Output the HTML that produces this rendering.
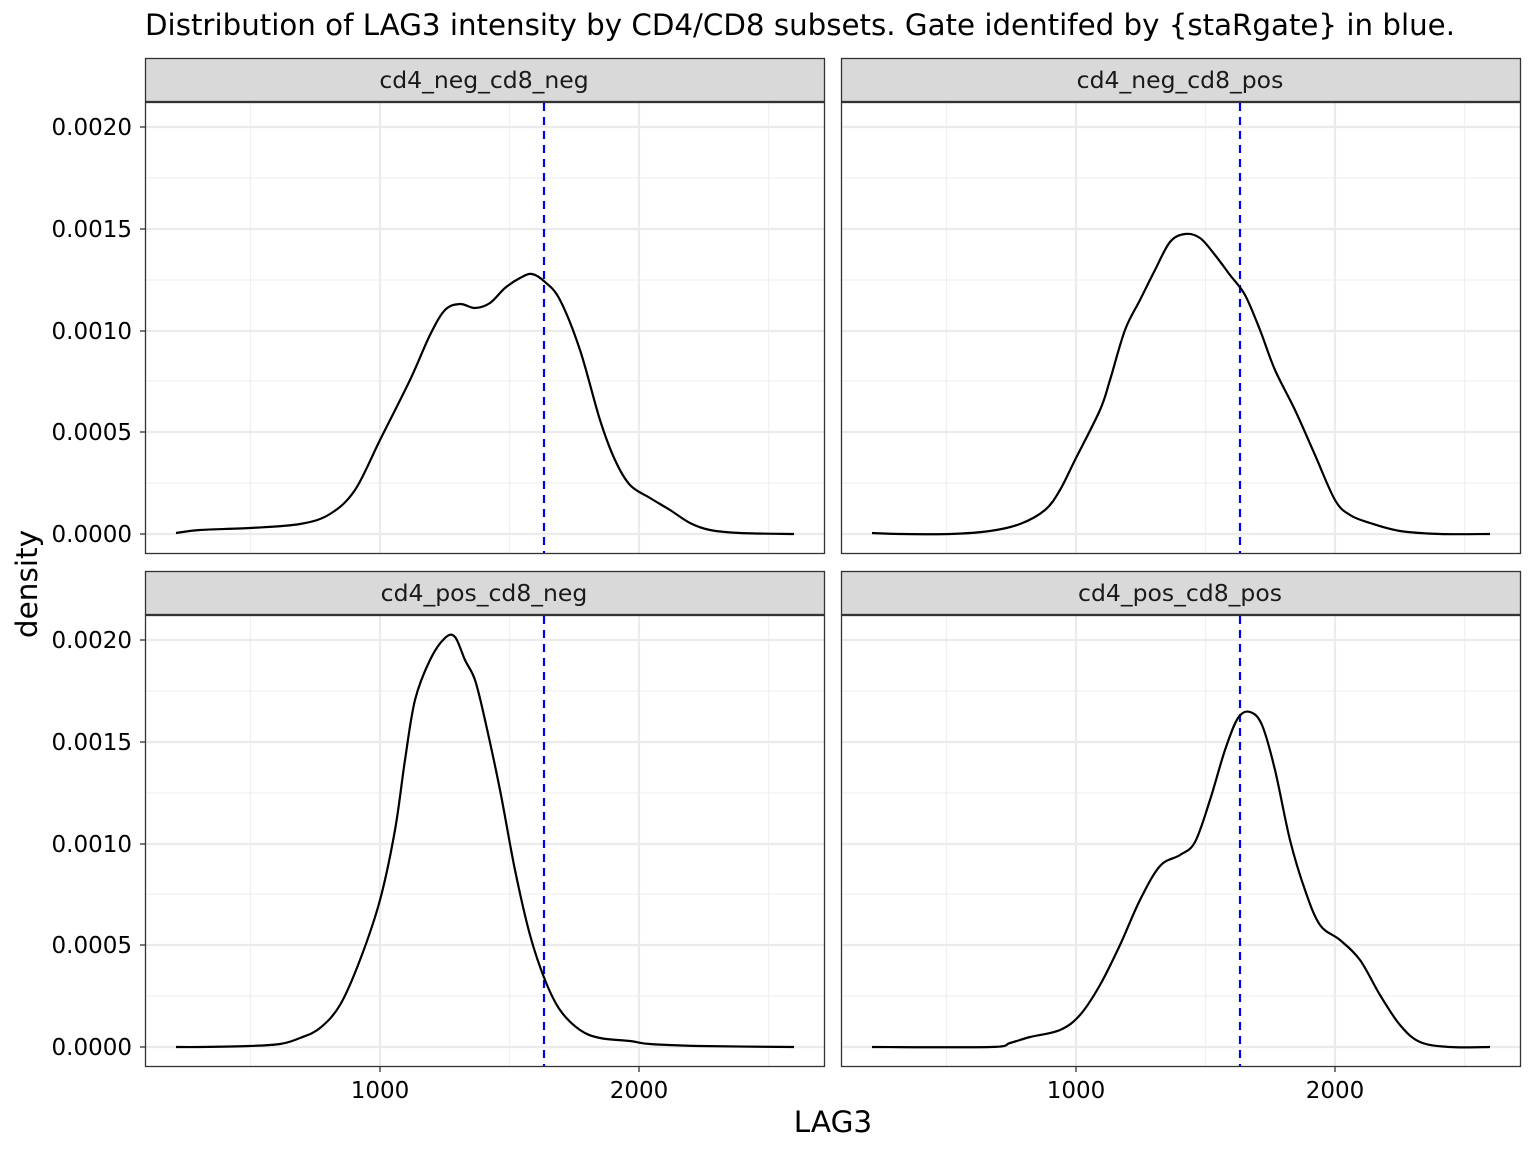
<!DOCTYPE html>
<html><head><style>body{margin:0;background:#fff}svg{display:block}text{font-family:"DejaVu Sans","Liberation Sans",sans-serif}</style></head><body>
<svg id="s" width="1536" height="1152" xmlns="http://www.w3.org/2000/svg">
<text x="145" y="35" font-size="29.3" textLength="1310" lengthAdjust="spacingAndGlyphs">Distribution of LAG3 intensity by CD4/CD8 subsets. Gate identifed by {staRgate} in blue.</text>
<g id="grids"></g>
<g fill="none" stroke="#333" stroke-width="1.3">
<rect x="145.5" y="102.5" width="679" height="451"/><rect x="841.5" y="102.5" width="679" height="451"/>
<rect x="145.5" y="615.5" width="679" height="451"/><rect x="841.5" y="615.5" width="679" height="451"/>
</g>
<g fill="#d9d9d9" stroke="#333" stroke-width="1.3">
<rect x="145.5" y="58.5" width="679" height="43"/><rect x="841.5" y="58.5" width="679" height="43"/>
<rect x="145.5" y="571.5" width="679" height="43"/><rect x="841.5" y="571.5" width="679" height="43"/>
</g>
<g font-size="23.5" fill="#1a1a1a" text-anchor="middle">
<text x="484" y="88">cd4_neg_cd8_neg</text><text x="1180" y="88">cd4_neg_cd8_pos</text>
<text x="484" y="601">cd4_pos_cd8_neg</text><text x="1180" y="601">cd4_pos_cd8_pos</text>
</g>
<g stroke="#0000ee" stroke-width="2.2" stroke-dasharray="8,6">
<line x1="544" x2="544" y1="103" y2="553"/><line x1="1240" x2="1240" y1="103" y2="553"/>
<line x1="544" x2="544" y1="616" y2="1066"/><line x1="1240" x2="1240" y1="616" y2="1066"/>
</g>
<g id="curves" fill="none" stroke="#000" stroke-width="2.2" stroke-linejoin="round"></g>
<g stroke="#333" stroke-width="1.3">
<line x1="140" x2="145" y1="534" y2="534"/><line x1="140" x2="145" y1="432" y2="432"/><line x1="140" x2="145" y1="331" y2="331"/><line x1="140" x2="145" y1="229" y2="229"/><line x1="140" x2="145" y1="127" y2="127"/>
<line x1="140" x2="145" y1="1047" y2="1047"/><line x1="140" x2="145" y1="945" y2="945"/><line x1="140" x2="145" y1="844" y2="844"/><line x1="140" x2="145" y1="742" y2="742"/><line x1="140" x2="145" y1="640" y2="640"/>
<line x1="380" x2="380" y1="1067" y2="1072"/><line x1="639" x2="639" y1="1067" y2="1072"/><line x1="1076" x2="1076" y1="1067" y2="1072"/><line x1="1335" x2="1335" y1="1067" y2="1072"/>
</g>
<g font-size="23" fill="#000" text-anchor="end">
<text x="132" y="542">0.0000</text><text x="132" y="440">0.0005</text><text x="132" y="339">0.0010</text><text x="132" y="237">0.0015</text><text x="132" y="135">0.0020</text>
<text x="132" y="1055">0.0000</text><text x="132" y="953">0.0005</text><text x="132" y="852">0.0010</text><text x="132" y="750">0.0015</text><text x="132" y="648">0.0020</text>
</g>
<g font-size="23" fill="#000" text-anchor="middle">
<text x="380" y="1098">1000</text><text x="639" y="1098">2000</text><text x="1076" y="1098">1000</text><text x="1335" y="1098">2000</text>
</g>
<text x="833" y="1132" font-size="29.5" text-anchor="middle">LAG3</text>
<text transform="translate(37,584) rotate(-90)" font-size="29.5" text-anchor="middle">density</text>
</svg>
<script>
var NS="http://www.w3.org/2000/svg";
function el(p,t,a){var e=document.createElementNS(NS,t);for(var k in a)e.setAttribute(k,a[k]);p.appendChild(e);return e;}
var g=document.getElementById("grids");
[[145,102,0],[841,102,696],[145,615,0],[841,615,696]].forEach(function(p){
 var x0=p[0],y0=p[1],dx=p[2],dy=y0-102;
 [483,381,280,178].forEach(function(y){el(g,"line",{x1:x0,x2:x0+679,y1:y+dy,y2:y+dy,stroke:"#f0f0f0","stroke-width":1.2});});
 [250.5,509.5,768.5].forEach(function(x){el(g,"line",{x1:x+dx,x2:x+dx,y1:y0,y2:y0+451,stroke:"#f0f0f0","stroke-width":1.2});});
 [534,432,331,229,127].forEach(function(y){el(g,"line",{x1:x0,x2:x0+679,y1:y+dy,y2:y+dy,stroke:"#ebebeb","stroke-width":2.2});});
 [380,639].forEach(function(x){el(g,"line",{x1:x+dx,x2:x+dx,y1:y0,y2:y0+451,stroke:"#ebebeb","stroke-width":2.2});});
});
var C=[
"176,533 200,530 250,528 300,524 330,514 355,490 380,440 410,380 430,335 445,310 460,304 475,308 490,303 505,288 520,278 532,274 545,282 560,300 580,350 600,420 615,460 630,485 650,498 670,510 690,523 710,530 740,533 794,534",
"872,533 900,534 950,534 990,531 1020,524 1045,510 1060,490 1075,460 1100,410 1110,380 1125,330 1140,300 1155,270 1170,242 1185,234 1200,238 1215,255 1230,275 1245,295 1260,330 1275,370 1295,410 1315,455 1335,500 1350,515 1370,523 1400,531 1440,534 1490,534",
"176,1047 200,1047 250,1046 280,1044 300,1038 320,1028 340,1005 360,960 380,900 395,830 405,760 415,700 430,660 445,638 455,637 465,660 475,680 485,720 500,790 515,870 530,935 545,980 560,1010 580,1030 600,1038 630,1041 650,1044 700,1046 794,1047",
"872,1047 990,1047 1010,1043 1030,1037 1060,1030 1080,1015 1100,985 1120,945 1140,900 1160,866 1180,855 1195,842 1210,800 1225,750 1238,718 1250,712 1262,725 1275,770 1290,840 1305,890 1320,925 1340,940 1360,960 1380,995 1400,1025 1420,1042 1450,1047 1490,1047"];
var cg=document.getElementById("curves");
C.forEach(function(s){
 var P=s.split(" ").map(function(q){return q.split(",").map(Number);});
 var d="M"+P[0][0]+","+P[0][1];
 for(var i=0;i<P.length-1;i++){
  var p0=P[Math.max(i-1,0)],p1=P[i],p2=P[i+1],p3=P[Math.min(i+2,P.length-1)];
  d+=" C"+(p1[0]+(p2[0]-p0[0])/6)+","+(p1[1]+(p2[1]-p0[1])/6)+" "+(p2[0]-(p3[0]-p1[0])/6)+","+(p2[1]-(p3[1]-p1[1])/6)+" "+p2[0]+","+p2[1];
 }
 el(cg,"path",{d:d});
});
</script>
</body></html>
